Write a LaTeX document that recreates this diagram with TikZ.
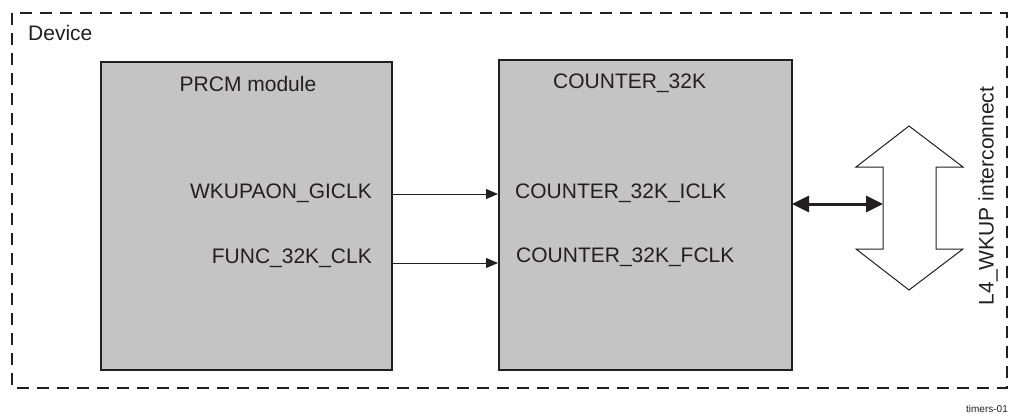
\documentclass[tikz,border=0pt]{standalone}
\usepackage{fontspec}
\setmainfont{Liberation Sans}
\usetikzlibrary{arrows.meta}
\definecolor{ink}{HTML}{231F20}
\definecolor{boxgray}{HTML}{C4C4C4}
\tikzset{
  module/.style={draw=ink, line width=2pt, fill=boxgray},
  lbl/.style={font=\fontsize{21}{25}\selectfont, text=ink, inner sep=0pt},
  sig/.style={draw=ink, line width=1pt, -{Triangle[length=12pt,width=10pt]}},
  bus/.style={draw=ink, line width=3pt, {Triangle[length=17pt,width=16pt]}-{Triangle[length=17pt,width=16pt]}, shorten <=-1pt},
}
\begin{document}
\begin{tikzpicture}[x=1pt,y=-1pt]
\useasboundingbox (0,0) rectangle (1019,415);
\draw[ink, line width=1.6pt, dash pattern=on 12pt off 8pt] (12,13) rectangle (1007,388);
\node[lbl, anchor=west] (dev) at (28,33) {Device};
\node[module, minimum width=291pt, minimum height=308pt, anchor=north west] (prcm) at (100,61) {};
\node[module, minimum width=293pt, minimum height=310pt, anchor=north west] (cnt) at (498,59) {};
\node[lbl] (prcmt) at (248,84) {PRCM module};
\node[lbl, anchor=west] (cntt) at (553,83) {COUNTER\_32K};
\node[lbl, anchor=east] (gi) at (372,193) {WKUPAON\_GICLK};
\node[lbl, anchor=east] (fc) at (372,258) {FUNC\_32K\_CLK};
\node[lbl, anchor=west] (ci) at (515,193) {COUNTER\_32K\_ICLK};
\node[lbl, anchor=west] (cf) at (516,257) {COUNTER\_32K\_FCLK};
\coordinate (a1s) at (prcm.east |- 0,194);
\coordinate (a1e) at (cnt.west |- 0,194);
\coordinate (a2s) at (prcm.east |- 0,263);
\coordinate (a2e) at (cnt.west |- 0,263);
\draw[sig] (a1s) -- (a1e);
\draw[sig] (a2s) -- (a2e);
% big hollow double arrow
\draw[ink, line width=1pt, fill=white]
  (909,126) -- (963,167) -- (936,167) -- (936,249) -- (963,249) -- (909,290)
  -- (856,249) -- (883,249) -- (883,167) -- (856,167) -- cycle;
\coordinate (busl) at (cnt.east |- 0,204);
\coordinate (busr) at (883,204);
\draw[bus] (busl) -- (busr);
\node[lbl, rotate=90] (l4) at (988,196) {L4\_WKUP interconnect};
\node[lbl, anchor=east, font=\fontsize{10}{12}\selectfont] (tm) at (1008,409) {timers-01};
\end{tikzpicture}
\end{document}
